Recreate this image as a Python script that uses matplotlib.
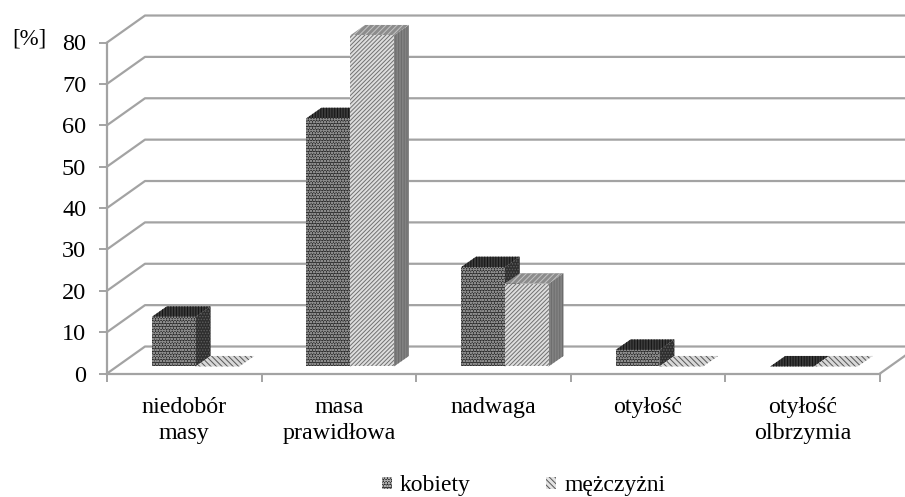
import matplotlib.pyplot as plt
from matplotlib.patches import Polygon, Patch

plt.rcParams["font.family"] = ["Liberation Serif", "DejaVu Serif"]
plt.rcParams["hatch.linewidth"] = 0.7

categories = ["niedobór\nmasy", "masa\nprawidłowa", "nadwaga", "otyłość", "otyłość\nolbrzymia"]
kobiety = [12, 60, 24, 4, 0]
mezczyzni = [0, 80, 20, 0, 0]
y_ticks = [0, 10, 20, 30, 40, 50, 60, 70, 80]

GRID = "#a3a3a3"

# depth of the fake 3D box, in data units
WALL_DX = 38 / 154.6
WALL_DY = 27 / 4.14
BAR_DX = 15 / 154.6
BAR_DY = 10.5 / 4.14
BAR_BASE = 1.7
BAR_W = 0.283
BAR_START = 0.29

fig = plt.figure(figsize=(9.05, 4.97), dpi=100)
ax = fig.add_axes([107 / 905, 1 - 373.5 / 497, 773 / 905, 331 / 497])
ax.patch.set_alpha(0)
ax.set_xlim(0, 5)
ax.set_ylim(0, 80)


def draw_bar(x, value, front, side, top):
    y0 = BAR_BASE
    y1 = BAR_BASE + value
    faces = [
        ([(x + BAR_W, y0), (x + BAR_W + BAR_DX, y0 + BAR_DY),
          (x + BAR_W + BAR_DX, y1 + BAR_DY), (x + BAR_W, y1)], side),
        ([(x, y1), (x + BAR_W, y1), (x + BAR_W + BAR_DX, y1 + BAR_DY),
          (x + BAR_DX, y1 + BAR_DY)], top),
        ([(x, y0), (x + BAR_W, y0), (x + BAR_W, y1), (x, y1)], front),
    ]
    for pts, (fc, ec, hatch) in faces:
        if value == 0 and pts[0] != (x, y1):
            continue
        ax.add_patch(Polygon(pts, closed=True, facecolor=fc, edgecolor=ec,
                             hatch=hatch, linewidth=0, clip_on=False, zorder=3))


# back wall, left wall and floor lines
for v in y_ticks:
    ax.plot([0, WALL_DX, 5 + WALL_DX], [v, v + WALL_DY, v + WALL_DY],
            color=GRID, lw=1.6, clip_on=False, zorder=1)
ax.plot([5, 5 + WALL_DX], [0, WALL_DY], color=GRID, lw=1.6, clip_on=False, zorder=1)

k_style = {
    "front": ("#2c2c2c", "#8c8c8c", "oooooo"),
    "side": ("#2e2e2e", "#5e5e5e", "......"),
    "top": ("#3c3c3c", "#141414", "||||||"),
}
m_style = {
    "front": ("#dedede", "#707070", "////////"),
    "side": ("#828282", "#6c6c6c", "||||||"),
    "top": ("#8c8c8c", "#c4c4c4", "//////"),
}
m_flat = ("#d8d8d8", "#555555", "\\\\\\\\\\\\")

for i in range(len(categories)):
    x = i + BAR_START
    draw_bar(x, kobiety[i], k_style["front"], k_style["side"], k_style["top"])
    top = m_style["top"] if mezczyzni[i] > 0 else m_flat
    draw_bar(x + BAR_W, mezczyzni[i], m_style["front"], m_style["side"], top)

# axes
for s in ["top", "right"]:
    ax.spines[s].set_visible(False)
for s in ["left", "bottom"]:
    ax.spines[s].set_color(GRID)
    ax.spines[s].set_linewidth(1.6)

ax.set_yticks(y_ticks)
ax.set_xticks(range(6))
ax.set_xticklabels([])
ax.set_xticks([i + 0.5 for i in range(5)], minor=True)
ax.set_xticklabels(categories, minor=True, linespacing=1.3)
ax.tick_params(axis="y", labelsize=17.5, length=6, width=1.4, color=GRID, pad=9)
ax.tick_params(axis="x", which="major", length=6, width=1.4, color=GRID)
ax.tick_params(axis="x", which="minor", length=0, labelsize=17.3, pad=17)

fig.text(12 / 905, 1 - 38.5 / 497, "[%]", fontsize=16.5, va="center", ha="left")

handles = [
    Patch(facecolor="#2c2c2c", edgecolor="#b0b0b0", hatch="oooooo", linewidth=0),
    Patch(facecolor="#e2e2e2", edgecolor="#555555", hatch="\\\\\\\\\\\\", linewidth=0),
]
fig.legend(handles, ["kobiety", "mężczyżni"], ncol=2, frameon=False, fontsize=17,
           loc="center", bbox_to_anchor=(523.5 / 905, 1 - 486 / 497),
           handlelength=0.42, handleheight=0.42, handletextpad=0.34, columnspacing=3.2,
           borderpad=0)

plt.savefig("out.png", dpi=100)
